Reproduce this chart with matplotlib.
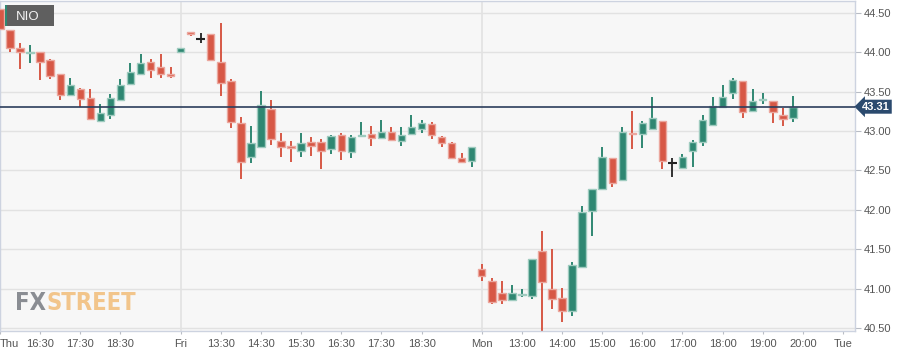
import matplotlib
matplotlib.use("Agg")
import matplotlib.pyplot as plt
from matplotlib.patches import Rectangle
from matplotlib import font_manager as fm

W, H = 919, 357

# 15 minute candles, NIO
opens = [44.55, 44.29, 44.05, 43.99, 44.00, 43.90, 43.72, 43.46, 43.53, 43.42,
         43.13, 43.21, 43.40, 43.60, 43.73, 43.88, 43.82, 43.725, 44.01, 44.26,
         44.17, 44.23, 43.88, 43.64, 43.10, 42.67, 42.80, 43.28, 42.875, 42.815,
         42.75, 42.865, 42.865, 42.77, 42.95, 42.73, 42.935, 42.96, 42.91, 42.985,
         42.88, 42.96, 43.03, 43.085, 42.92, 42.845, 42.66, 42.625, 41.25, 41.10,
         40.95, 40.85, 40.92, 40.91, 41.48, 40.995, 40.875, 40.71, 41.27, 41.98,
         42.26, 42.655, 42.38, 42.98, 42.965, 43.025, 43.13, 42.59, 42.535, 42.75,
         42.86, 43.08, 43.305, 43.49, 43.63, 43.26, 43.39, 43.385, 43.205, 43.165]
highs = [44.65, 44.29, 44.12, 44.09, 44.00, 43.92, 43.73, 43.68, 43.55, 43.53,
         43.35, 43.47, 43.66, 43.86, 43.98, 43.92, 43.98, 43.81, 44.06, 44.26,
         44.24, 44.23, 44.37, 43.66, 43.18, 43.06, 43.51, 43.40, 42.97, 42.87,
         42.97, 42.93, 42.90, 42.95, 42.97, 42.95, 43.11, 43.065, 43.14, 43.05,
         43.05, 43.205, 43.14, 43.11, 42.94, 42.865, 42.72, 42.80, 41.31, 41.14,
         41.10, 41.045, 40.995, 41.38, 41.73, 41.50, 41.005, 41.335, 42.05, 42.265,
         42.795, 42.655, 43.05, 43.255, 43.13, 43.43, 43.13, 42.655, 42.71, 42.885,
         43.205, 43.43, 43.585, 43.68, 43.63, 43.535, 43.49, 43.385, 43.29, 43.445]
lows = [44.27, 44.01, 43.79, 43.87, 43.65, 43.66, 43.40, 43.44, 43.30, 43.15,
        43.12, 43.16, 43.40, 43.59, 43.71, 43.68, 43.68, 43.68, 44.01, 44.21,
        44.115, 43.90, 43.44, 43.04, 42.39, 42.60, 42.80, 42.82, 42.675, 42.61,
        42.67, 42.69, 42.515, 42.705, 42.63, 42.655, 42.93, 42.815, 42.91, 42.885,
        42.815, 42.96, 42.97, 42.895, 42.80, 42.64, 42.60, 42.55, 41.10, 40.80,
        40.80, 40.85, 40.89, 40.865, 40.465, 40.74, 40.57, 40.655, 41.27, 41.67,
        42.26, 42.295, 42.37, 42.77, 42.78, 43.02, 42.515, 42.42, 42.535, 42.54,
        42.815, 43.07, 43.30, 43.41, 43.165, 43.26, 43.34, 43.105, 43.065, 43.12]
closes = [44.30, 44.06, 44.00, 44.00, 43.88, 43.70, 43.46, 43.59, 43.41, 43.15,
          43.23, 43.42, 43.59, 43.75, 43.87, 43.78, 43.73, 43.70, 44.06, 44.23,
          44.17, 43.90, 43.61, 43.11, 42.61, 42.85, 43.33, 42.90, 42.80, 42.79,
          42.85, 42.815, 42.75, 42.94, 42.75, 42.93, 42.945, 42.91, 42.99, 42.89,
          42.945, 43.05, 43.10, 42.945, 42.845, 42.655, 42.61, 42.795, 41.155, 40.825,
          40.855, 40.95, 40.925, 41.375, 41.09, 40.87, 40.72, 41.30, 41.97, 42.265,
          42.67, 42.345, 42.99, 42.965, 43.10, 43.165, 42.62, 42.59, 42.675, 42.86,
          43.135, 43.32, 43.435, 43.65, 43.24, 43.385, 43.395, 43.24, 43.15, 43.31]

tick_pos = [0, 4, 8, 12, 18, 22, 26, 30, 34, 38, 42, 48, 52, 56, 60, 64, 68, 72, 76, 80, 84]
tick_labels = ["Thu", "16:30", "17:30", "18:30", "Fri", "13:30", "14:30", "15:30",
               "16:30", "17:30", "18:30", "Mon", "13:00", "14:00", "15:00", "16:00",
               "17:00", "18:00", "19:00", "20:00", "Tue"]
day_starts = [18, 48]
y_ticks = [40.5, 41.0, 41.5, 42.0, 42.5, 43.0, 43.5, 44.0, 44.5]
flat_bars = [20, 67]
last_price = closes[-1]

UP, UP_EDGE = "#2f8772", "#9fcbbf"
DOWN, DOWN_EDGE = "#d75846", "#eba79e"
FLAT = "#222222"

plt.rcParams["font.family"] = ["Liberation Sans", "DejaVu Sans"]

fig = plt.figure(figsize=(W / 100, H / 100), dpi=100)
fig.patch.set_facecolor("white")
ax = fig.add_axes([0, 26 / H, 855 / W, 330 / H])
ax.set_facecolor("#f7f7f7")

for i in range(len(opens)):
    o, h, l, c = opens[i], highs[i], lows[i], closes[i]
    if i in flat_bars:
        ax.vlines(i, l, h, color=FLAT, lw=1.3, zorder=3)
        ax.hlines(c, i - 0.45, i + 0.45, color=FLAT, lw=1.5, zorder=3)
        continue
    if c >= o:
        fc, ec = UP, UP_EDGE
    else:
        fc, ec = DOWN, DOWN_EDGE
    ax.vlines(i, l, h, color=fc, lw=1.4, zorder=2)
    body = max(abs(c - o), 0.012)
    ax.bar(i, body, bottom=min(o, c), width=0.74, color=fc,
           edgecolor=ec, linewidth=1.0, zorder=3)

ax.axhline(last_price, color="#2c3d5c", lw=1.2, zorder=4)
ax.annotate(f"{last_price:.2f}", xy=(1.0, last_price),
            xycoords=("axes fraction", "data"), xytext=(7, 0),
            textcoords="offset pixels", ha="left", va="center",
            color="white", fontsize=8, fontweight="bold", annotation_clip=False,
            bbox=dict(boxstyle="larrow,pad=0.18", fc="#2b4a6e", ec="none"))

ax.set_xlim(0.03, 0.03 + 855 / 10.04)
ax.set_ylim(40.462, 44.652)

ax.set_yticks(y_ticks)
ax.set_yticklabels([f"{v:.2f}" for v in y_ticks])
ax.yaxis.tick_right()
ax.tick_params(axis="y", length=4, width=0.8, color="#b8bcc4", pad=2,
               labelsize=8, labelcolor="#555555")
ax.set_xticks(tick_pos)
ax.set_xticklabels(tick_labels)
ax.tick_params(axis="x", length=2.5, width=0.8, color="#b8bcc4", pad=3,
               labelsize=8, labelcolor="#555555")
ax.get_xticklabels()[0].set_ha("left")

ax.grid(axis="y", color="#e2e2e2", lw=1)
for d in day_starts:
    ax.axvline(d, color="#e2e2e2", lw=1.2, zorder=0)
ax.set_axisbelow(True)
for s in ax.spines.values():
    s.set_color("#cdd3e0")
    s.set_linewidth(1)


def px(x, y):
    return x / W, 1 - y / H


# symbol tag
fig.add_artist(Rectangle(px(5, 26), 49 / W, 21 / H, transform=fig.transFigure,
                         fc="#5f5f5f", ec="none", zorder=10))
fig.add_artist(Rectangle(px(5, 26), 2 / W, 21 / H, transform=fig.transFigure,
                         fc="#2f8772", ec="none", zorder=11))
fig.text(*px(16, 16.5), "NIO", color="#f2f2f2", fontsize=9.5, ha="left",
         va="center", zorder=12)

# watermark
names = {f.name for f in fm.fontManager.ttflist}
wm_family = ["Liberation Sans Narrow"] if "Liberation Sans Narrow" in names else ["DejaVu Sans"]
t1 = fig.text(*px(15, 310), "FX", color="#8a8d93", fontsize=17,
              fontweight="bold", fontstretch="condensed", family=wm_family,
              ha="left", va="baseline", zorder=1)
ax.annotate("STREET", xy=(1, 0), xycoords=t1, ha="left", va="bottom",
            color="#f2c58b", fontsize=17, fontweight="bold",
            fontstretch="condensed", family=wm_family, annotation_clip=False)

fig.savefig("out.png", dpi=100, facecolor="white")
